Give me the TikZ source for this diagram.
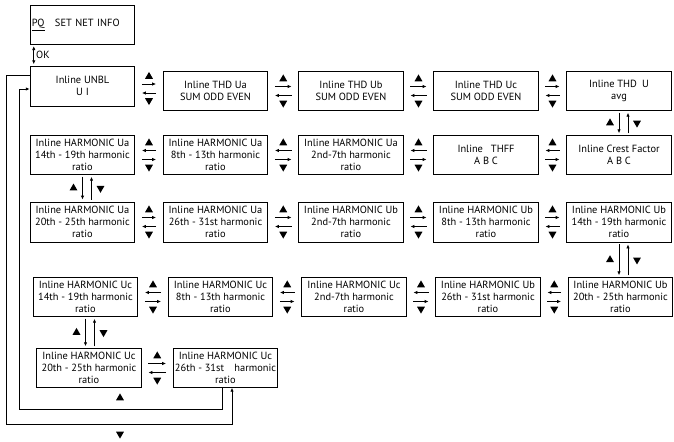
\documentclass[tikz,border=0pt]{standalone}
\usepackage{fontspec}
\setmainfont{PT Sans}
\usetikzlibrary{positioning,arrows.meta,calc,shapes.geometric}

\begin{document}
\begin{tikzpicture}[
      x=0.75pt, y=-0.75pt, line width=0.6pt,
      box/.style = {draw, minimum width=78.5pt, minimum height=29pt, inner sep=1pt, align=center, font=\fontsize{7.8}{9}\selectfont},
      lbl/.style = {font=\fontsize{7.8}{9}\selectfont, inner sep=1.5pt},
      arr/.style = {-{Latex[length=3pt,width=2.6pt]}, shorten <=5pt, shorten >=5pt},
      varr/.style = {-{Latex[length=3pt,width=2.6pt]}, shorten <=1.5pt, shorten >=1.5pt},
      tri/.style = {regular polygon, regular polygon sides=3, fill, inner sep=0pt, minimum size=6.9pt},
      triup/.style = {tri},
      tridn/.style = {tri, shape border rotate=180},
      ret/.style = {-{Latex[length=3pt,width=2.6pt]}},
    ]
    \useasboundingbox (0,0) rectangle (674,442);

    % start
    \node[box, align=left, text width=76pt] (pq) at (82.5,25) {\underline{PQ}\quad SET NET INFO};
    \node[box, minimum height=30pt] (unbl) at (82.5,86) {Inline UNBL\\U I};
    \draw[{Latex[length=3pt,width=2.6pt]}-{Latex[length=3pt,width=2.6pt]}, shorten <=1pt, shorten >=1pt]
      ($(pq.south west)+(4,0)$) -- ($(unbl.north west)+(4,0)$) node[lbl, midway, right] (ok) {OK};

    % row 1
    \node[box] (thdua) at (215.5,91) {Inline THD Ua\\SUM ODD EVEN};
    \node[box] (thdub) at (351,91)   {Inline THD Ub\\SUM ODD EVEN};
    \node[box] (thduc) at (486,91)   {Inline THD Uc\\SUM ODD EVEN};
    \node[box] (thdu)  at (619,91)   {Inline THD\enspace U\\avg};

    % row 2
    \node[box] (ua1419) at (82.5,155) {Inline HARMONIC Ua\\14th - 19th harmonic\\ratio};
    \node[box] (ua813)  at (215.5,155) {Inline HARMONIC Ua\\8th - 13th harmonic\\ratio};
    \node[box] (ua27)   at (351,155)   {Inline HARMONIC Ua\\2nd-7th harmonic\\ratio};
    \node[box] (thff)   at (486,155)   {Inline\enspace\ THFF\\A B C};
    \node[box] (crest)  at (619,155)   {Inline Crest Factor\\A B C};

    % row 3
    \node[box, minimum height=30pt] (ua2025) at (82.5,222) {Inline HARMONIC Ua\\20th - 25th harmonic\\ratio};
    \node[box, minimum height=30pt] (ua2631) at (215.5,222) {Inline HARMONIC Ua\\26th - 31st harmonic\\ratio};
    \node[box, minimum height=30pt] (ub27)   at (351,222)   {Inline HARMONIC Ub\\2nd-7th harmonic\\ratio};
    \node[box, minimum height=30pt] (ub813)  at (486,222)   {Inline HARMONIC Ub\\8th - 13th harmonic\\ratio};
    \node[box, minimum height=30pt] (ub1419) at (619,222)   {Inline HARMONIC Ub\\14th - 19th harmonic\\ratio};

    % row 4
    \node[box] (uc1419) at (85.5,297)  {Inline HARMONIC Uc\\14th - 19th harmonic\\ratio};
    \node[box] (uc813)  at (220.5,297) {Inline HARMONIC Uc\\8th - 13th harmonic\\ratio};
    \node[box] (uc27)   at (354,297)   {Inline HARMONIC Uc\\2nd-7th harmonic\\ratio};
    \node[box] (ub2631) at (488,297)   {Inline HARMONIC Ub\\26th - 31st harmonic\\ratio};
    \node[box] (ub2025) at (620.5,297) {Inline HARMONIC Ub\\20th - 25th harmonic\\ratio};

    % row 5
    \node[box] (uc2025) at (89,368)    {Inline HARMONIC Uc\\20th - 25th harmonic\\ratio};
    \node[box] (uc2631) at (225.5,368) {Inline HARMONIC Uc\\26th - 31st\quad harmonic\\ratio};

    % keys between boxes, upper arrow to the right
    \foreach \a/\b in {unbl/thdua, thdua/thdub, thdub/thduc, thduc/thdu,
                       ua2025/ua2631, ua2631/ub27, ub27/ub813, ub813/ub1419,
                       uc2025/uc2631} {
      \coordinate (m) at ($(\a.east)!.5!(\b.west)$);
      \node[triup] (up-\a) at ($(m)+(0,-12)$) {};
      \node[tridn] (dn-\a) at ($(m)+(0,12)$) {};
      \draw[arr] ($(\a.east|-m)+(0,-4.5)$) -- ($(\b.west|-m)+(0,-4.5)$);
      \draw[arr] ($(\b.west|-m)+(0,4.5)$) -- ($(\a.east|-m)+(0,4.5)$);
    }
    % upper arrow to the left
    \foreach \a/\b in {ua1419/ua813, ua813/ua27, ua27/thff, thff/crest,
                       uc1419/uc813, uc813/uc27, uc27/ub2631, ub2631/ub2025} {
      \coordinate (m) at ($(\a.east)!.5!(\b.west)$);
      \node[triup] (up-\a) at ($(m)+(0,-12)$) {};
      \node[tridn] (dn-\a) at ($(m)+(0,12)$) {};
      \draw[arr] ($(\b.west|-m)+(0,-4.5)$) -- ($(\a.east|-m)+(0,-4.5)$);
      \draw[arr] ($(\a.east|-m)+(0,4.5)$) -- ($(\b.west|-m)+(0,4.5)$);
    }
    % keys between rows
    \foreach \a/\b in {thdu/crest, ua1419/ua2025, ub1419/ub2025, uc1419/uc2025} {
      \coordinate (v) at ($(\a.south)!.5!(\a.south|-\b.north)$);
      \node[triup] (vu-\a) at ($(v)+(-9,0)$) {};
      \node[tridn] (vd-\a) at ($(v)+(18,0)$) {};
      \draw[varr] (\a.south) -- (\a.south|-\b.north);
      \draw[varr] ($(\a.south|-\b.north)+(9,0)$) -- ($(\a.south)+(9,0)$);
    }

    % back to start
    \coordinate (lo) at (6,424);
    \coordinate (li) at (19,409);
    \draw[ret] ($(unbl.west)+(0,-11)$) -| (lo) -| ($(uc2631.south)+(6.5,0)$);
    \draw[ret] ($(uc2631.south)+(-3.5,0)$) |- (li) |- ($(unbl.west)+(0,3)$);
    \node[triup] (retup) at (120,398) {};
    \node[tridn] (retdn) at (120,434) {};
  \end{tikzpicture}
\end{document}
